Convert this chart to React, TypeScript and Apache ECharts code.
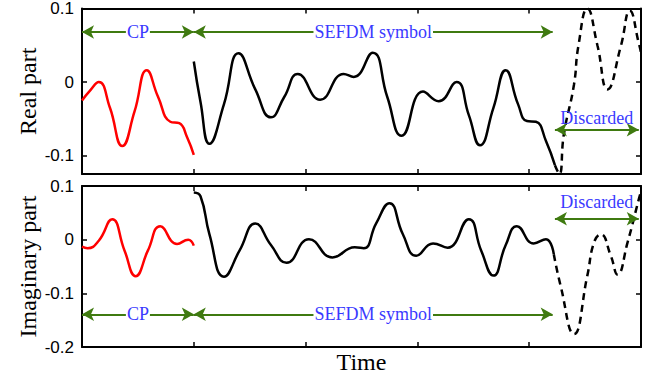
import React, { useEffect, useRef } from "react";
import * as echarts from "echarts";

// x positions of ticks (time, arbitrary units)
const xTicks = [0, 1, 2, 3, 4, 5];
const realTicks = [-0.1, 0, 0.1];
const imagTicks = [-0.2, -0.1, 0, 0.1];

// Real part
const realCP = [
  [0, -0.025], [0.07, -0.012], [0.15, 0.0], [0.25, -0.035], [0.36, -0.087], [0.47, -0.04],
  [0.58, 0.016], [0.68, -0.02], [0.79, -0.054], [0.87, -0.056], [0.94, -0.075], [1.0, -0.099],
];
const realSymbol = [
  [1.0, 0.028], [1.06, -0.027], [1.14, -0.084], [1.27, -0.03], [1.4, 0.039], [1.55, -0.01],
  [1.69, -0.048], [1.81, -0.02], [1.93, 0.011], [2.13, -0.024], [2.34, 0.011], [2.43, 0.007],
  [2.6, 0.04], [2.73, -0.02], [2.86, -0.073], [3.05, -0.013], [3.19, -0.026], [3.35, 0.0],
  [3.46, -0.045], [3.56, -0.086], [3.68, -0.035], [3.79, 0.016], [3.9, -0.03], [3.98, -0.053],
  [4.06, -0.054], [4.15, -0.08], [4.23, -0.113],
];
const realDiscard = [
  [4.23, -0.113], [4.27, -0.125], [4.31, -0.071], [4.4, -0.004], [4.44, 0.049], [4.52, 0.1],
  [4.61, 0.05], [4.7, -0.01], [4.82, 0.049], [4.9, 0.097], [4.98, 0.053], [5.0, 0.04],
];

// Imaginary part
const imagCP = [
  [0, -0.013], [0.05, -0.016], [0.15, -0.002], [0.27, 0.038], [0.38, -0.02], [0.48, -0.068],
  [0.59, -0.02], [0.7, 0.025], [0.85, -0.008], [0.95, 0.0], [1.0, -0.011],
];
const imagSymbol = [
  [1.0, 0.088], [1.06, 0.081], [1.14, 0.01], [1.27, -0.069], [1.41, -0.02], [1.55, 0.03],
  [1.69, -0.01], [1.83, -0.043], [2.03, 0.001], [2.24, -0.033], [2.44, -0.014], [2.52, -0.016],
  [2.63, 0.03], [2.75, 0.068], [2.87, 0.01], [2.99, -0.03], [3.14, -0.007], [3.27, -0.015],
  [3.46, 0.038], [3.57, -0.02], [3.68, -0.067], [3.79, -0.01], [3.89, 0.025], [4.04, -0.007],
  [4.15, 0.001], [4.22, -0.027],
];
const imagDiscard = [
  [4.22, -0.027], [4.28, -0.085], [4.4, -0.176], [4.52, -0.067], [4.58, -0.005], [4.64, 0.01],
  [4.73, -0.03], [4.79, -0.065], [4.88, -0.005], [4.98, 0.075], [5.0, 0.09],
];

// Annotation spans [start, end] and their levels
const cpSpan = [0, 1];
const symbolSpan = [1, 4.21];
const discardSpan = [4.23, 4.98];
const realArrowLevel = 0.068;
const realDiscardLevel = -0.065;
const imagArrowLevel = -0.139;
const imagDiscardLevel = 0.039;

const GREEN = "#3f7a10";
const BLUE = "#3a3aff";
const SERIF = "'Liberation Serif', 'Times New Roman', serif";
const SANS = "'Liberation Sans', Arial, sans-serif";

function arrow(span: number[], level: number, text: string, above: number) {
  const onLine = above < 0;
  return [
    {
      coord: [span[0], level],
      label: {
        show: true,
        formatter: text,
        position: onLine ? "middle" : "insideMiddleTop",
        verticalAlign: onLine ? "middle" : "bottom",
        color: BLUE,
        fontFamily: SERIF,
        fontSize: 18,
        lineHeight: 18,
        backgroundColor: onLine ? "#fff" : "transparent",
        padding: onLine ? [0, 1] : 0,
        distance: onLine ? 0 : above,
      },
    },
    { coord: [span[1], level] },
  ];
}

function markLines(items: any[]) {
  return {
    silent: true,
    animation: false,
    symbol: ["arrow", "arrow"],
    symbolSize: [10, 12],
    lineStyle: { color: GREEN, width: 2, type: "solid" },
    emphasis: { disabled: true },
    data: items,
  };
}

export default function App() {
  const ref = useRef<HTMLDivElement>(null);
  useEffect(() => {
    if (!ref.current) return;
    const chart = echarts.init(ref.current, undefined, { renderer: "svg" });
    const axisLine = { show: true, onZero: false, lineStyle: { color: "#000", width: 2 } };
    const xBase = (gridIndex: number, position: string, name?: string) => ({
      type: "value",
      gridIndex,
      position,
      min: xTicks[0],
      max: xTicks[xTicks.length - 1],
      interval: 1,
      axisLine,
      axisTick: { show: true, inside: true, length: 5, lineStyle: { color: "#000", width: 1.5 } },
      axisLabel: { show: false },
      splitLine: { show: false },
      name: name || "",
      nameLocation: "middle",
      nameGap: 3,
      nameMoveOverlap: false,
      nameTextStyle: { fontFamily: SERIF, fontSize: 24, color: "#000", verticalAlign: "top" },
    });
    const yBase = (gridIndex: number, position: string, min: number, max: number, ticks: number[], name?: string, showLabel?: boolean) => ({
      type: "value",
      gridIndex,
      position,
      min,
      max,
      axisLine,
      axisTick: { show: true, inside: true, length: 5, customValues: ticks, lineStyle: { color: "#000", width: 1.5 } },
      axisLabel: {
        show: !!showLabel,
        customValues: ticks,
        fontFamily: SANS,
        fontSize: 17,
        color: "#000",
        margin: 8,
        formatter: (v: number) => String(Math.round(v * 10) / 10),
      },
      splitLine: { show: false },
      name: name || "",
      nameLocation: "middle",
      nameGap: 42,
      nameMoveOverlap: false,
      nameTextStyle: { fontFamily: SERIF, fontSize: 24, color: "#000" },
    });
    const lineSeries = (data: number[][], xi: number, yi: number, color: string, dashed: boolean, ml?: any) => ({
      type: "line",
      xAxisIndex: xi,
      yAxisIndex: yi,
      data,
      smooth: true,
      showSymbol: false,
      symbol: "none",
      clip: true,
      lineStyle: { color, width: 2.5, type: dashed ? [7, 5] : "solid" },
      emphasis: { disabled: true },
      markLine: ml,
    });
    chart.setOption({
      animation: false,
      grid: [
        { left: 82, top: 5, width: 559, height: 169 },
        { left: 82, top: 186, width: 559, height: 161 },
      ],
      xAxis: [xBase(0, "bottom"), xBase(0, "top"), xBase(1, "bottom", "Time"), xBase(1, "top")],
      yAxis: [
        yBase(0, "left", -0.125, 0.1, realTicks, "Real part", true),
        yBase(0, "right", -0.125, 0.1, realTicks),
        yBase(1, "left", -0.2, 0.1, imagTicks, "Imaginary part", true),
        yBase(1, "right", -0.2, 0.1, imagTicks),
      ],
      series: [
        lineSeries(realCP, 0, 0, "#ff0000", false),
        lineSeries(realSymbol, 0, 0, "#000", false,
          markLines([
            arrow(cpSpan, realArrowLevel, "CP", -1),
            arrow(symbolSpan, realArrowLevel, "SEFDM symbol", -1),
            arrow(discardSpan, realDiscardLevel, "Discarded", 3),
          ])),
        lineSeries(realDiscard, 0, 0, "#000", true),
        lineSeries(imagCP, 2, 2, "#ff0000", false),
        lineSeries(imagSymbol, 2, 2, "#000", false,
          markLines([
            arrow(cpSpan, imagArrowLevel, "CP", -1),
            arrow(symbolSpan, imagArrowLevel, "SEFDM symbol", -1),
            arrow(discardSpan, imagDiscardLevel, "Discarded", 8),
          ])),
        lineSeries(imagDiscard, 2, 2, "#000", true),
      ],
    });
    return () => chart.dispose();
  }, []);
  return (
    <div
      ref={ref}
      style={{ position: "fixed", left: 0, top: 0, width: 662, height: 381, background: "#fff" }}
    />
  );
}
